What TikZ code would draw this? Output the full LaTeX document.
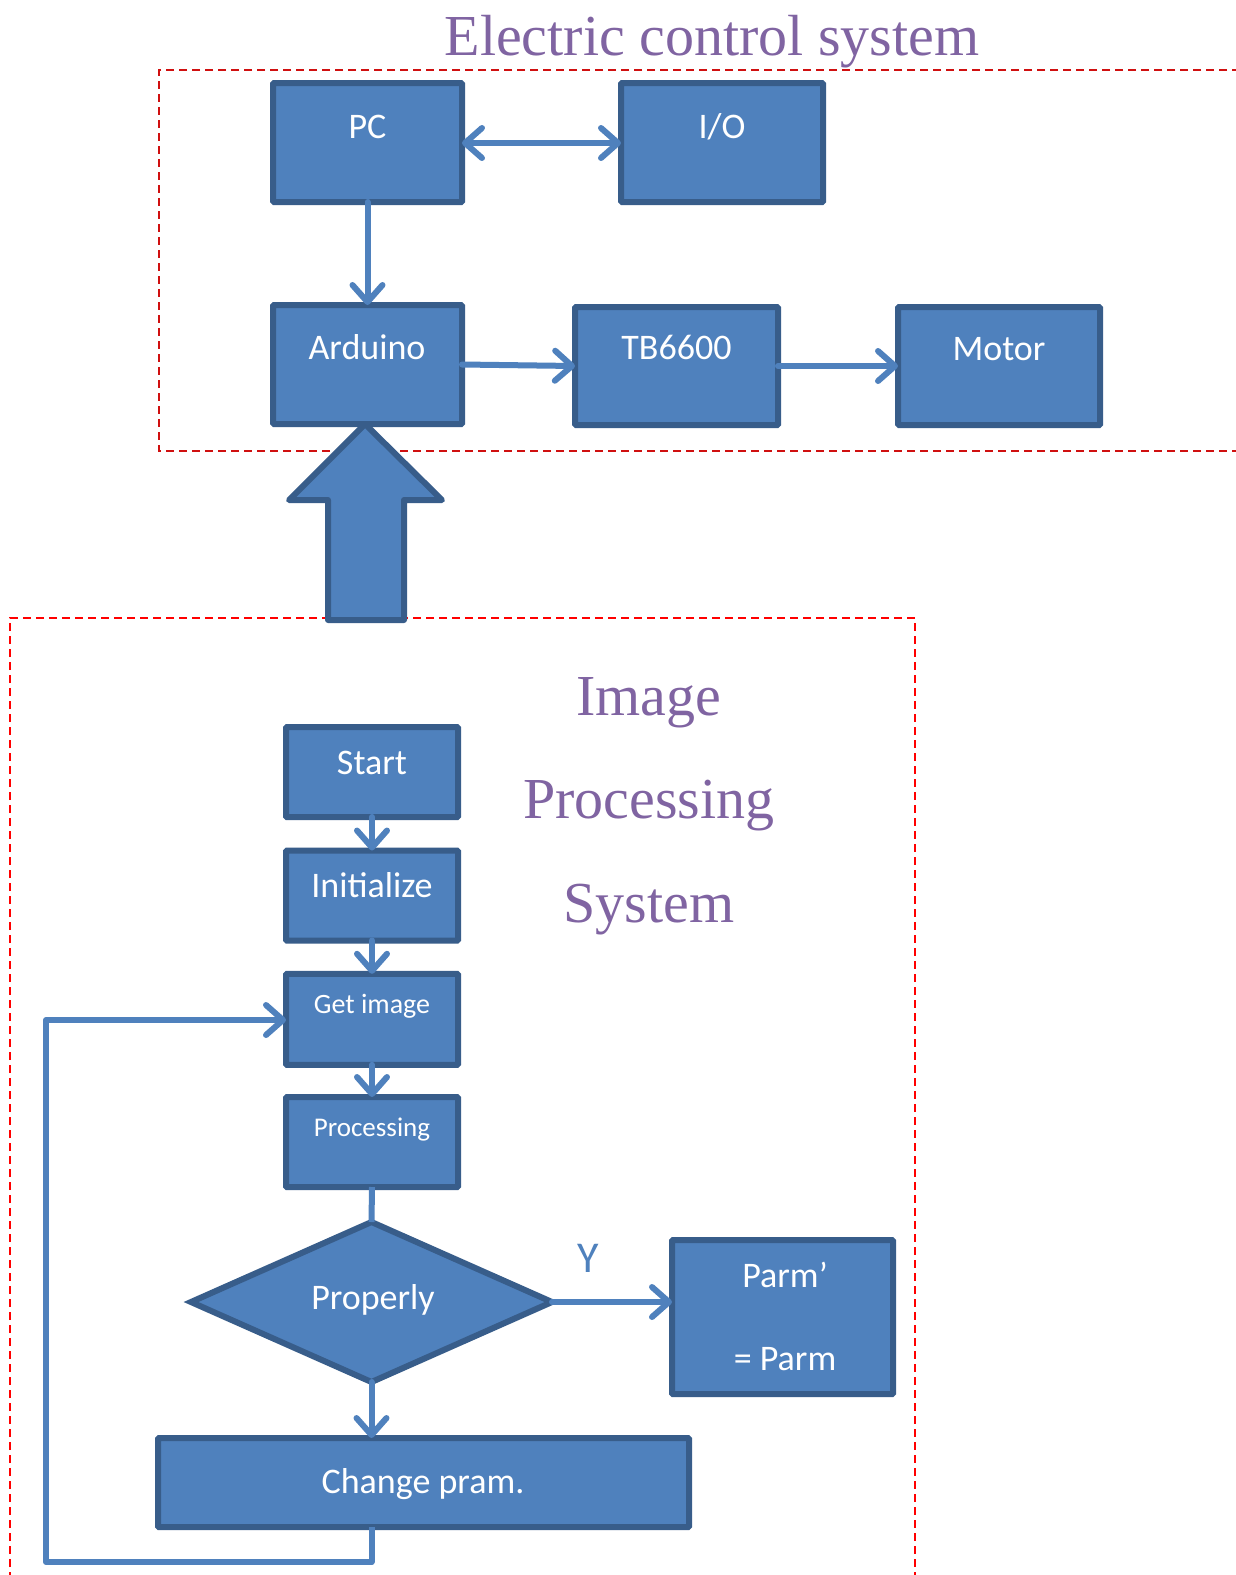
\documentclass[tikz,border=0pt]{standalone}
\usepackage{fontspec}
\setmainfont{Liberation Serif}
\newfontfamily\calfont{Carlito}
\usetikzlibrary{arrows.meta,shapes.geometric}
\definecolor{boxfill}{HTML}{4F81BD}
\definecolor{boxline}{HTML}{385D8A}
\definecolor{ttl}{HTML}{8064A2}
\definecolor{dashred}{HTML}{D01010}
\begin{document}
\begin{tikzpicture}[x=1pt,y=-1pt,
  box/.style={draw=boxline,fill=boxfill,line width=6pt,inner sep=0pt,outer sep=0pt,rounded corners=1pt},
  txt/.style={text=white,font=\calfont\fontsize{36}{40}\selectfont,anchor=base,inner sep=0pt},
  smalltxt/.style={txt,font=\calfont\fontsize{28}{32}\selectfont},
  title/.style={text=ttl,font=\fontsize{58}{62}\selectfont,anchor=base,inner sep=0pt},
  tip/.tip={Straight Barb[length=17pt,width=30pt,round]},
  conn/.style={draw=boxfill,line width=6pt,line cap=round,line join=round,-tip},
  plain/.style={draw=boxfill,line width=6pt,line join=round},
  frame/.style={line width=2.5pt,dash pattern=on 8pt off 5pt}]
\useasboundingbox (0,0) rectangle (1235,1575);
\fill[white] (0,0) rectangle (1235,1575);

% frames
\draw[frame,draw=dashred] (1240,70) -- (159,70) -- (159,451) -- (1240,451);
\draw[frame,draw=red] (10,1580) -- (10,618) -- (915,618) -- (915,1580);

% titles
\node[title] (t1) at (712,55) {Electric control system};
\node[title] (t2) at (649,715) {Image};
\node[title] (t3) at (649,818) {Processing};
\node[title] (t4) at (649,922) {System};

% electric control boxes
\node[box,minimum width=189pt,minimum height=119pt] (pc) at (367.5,142.5) {};
\node[box,minimum width=202pt,minimum height=119pt] (io) at (722,142.5) {};
\node[box,minimum width=189pt,minimum height=119pt] (ard) at (367.5,364.5) {};
\node[box,minimum width=203pt,minimum height=118pt] (tb) at (676.5,366) {};
\node[box,minimum width=202pt,minimum height=118pt] (mot) at (999,366) {};

\node[txt] (pct) at (367.5,138) {PC};
\node[txt] (iot) at (722,138) {I/O};
\node[txt] (ardt) at (367,359) {Arduino};
\node[txt] (tbt) at (676.5,359) {TB6600};
\node[txt] (mott) at (999,360) {Motor};

\draw[conn,tip-tip] (pc.east |- 0,143) -- (io.west |- 0,143);
\draw[conn] (pc.south) -- (ard.north);
\draw[conn] (ard.east) -- (tb.west);
\draw[conn] (tb.east) -- (mot.west);

% big arrow
\draw[box,line join=round,rounded corners=0pt] (365,424) -- (442,500) -- (404,500) -- (404,620) -- (328,620) -- (328,500) -- (289,500) -- cycle;

% image processing flow
\node[box,minimum width=172pt,minimum height=90pt] (start) at (372,772) {};
\node[box,minimum width=172pt,minimum height=90pt] (init) at (372,895.5) {};
\node[box,minimum width=172pt,minimum height=91pt] (get) at (372,1019.3) {};
\node[box,minimum width=172pt,minimum height=90pt] (proc) at (372,1142) {};
\node[box,diamond,rounded corners=0pt,minimum width=361pt,minimum height=160pt] (prop) at (371.5,1302) {};
\node[box,minimum width=221pt,minimum height=154pt] (parm) at (782.5,1317) {};
\node[box,minimum width=531pt,minimum height=89pt] (chg) at (423.5,1482.5) {};

\node[txt] (startt) at (372,774) {Start};
\node[txt] (initt) at (372,897) {Initialize};
\node[smalltxt] (gett) at (372,1013) {Get image};
\node[smalltxt,font=\calfont\fontsize{27}{31}\selectfont] (proct) at (372,1136) {Processing};
\node[txt] (propt) at (373,1309) {Properly};
\node[txt] (parmt1) at (785,1287) {Parm’};
\node[txt] (parmt2) at (785,1370) {= Parm};
\node[txt] (chgt) at (423,1493) {Change pram.};
\node[txt,text=boxfill,font=\calfont\fontsize{44}{48}\selectfont] (ylab) at (588,1272) {Y};

\draw[conn] (start.south) -- (init.north);
\draw[conn] (init.south) -- (get.north);
\draw[conn] (get.south) -- (proc.north);
\draw[plain] (proc.south) -- (prop.north);
\draw[conn] (prop.east) -- (parm.west |- prop.east);
\draw[conn] (prop.south) -- (chg.north -| prop.south);
\coordinate (lb) at (46,1562);
\coordinate (lt) at (46,1020);
\draw[conn,line cap=butt] (chg.south -| prop.south) -- (prop.south |- lb) -- (lb) -- (lt) -- (get.west |- lt);
\end{tikzpicture}
\end{document}
